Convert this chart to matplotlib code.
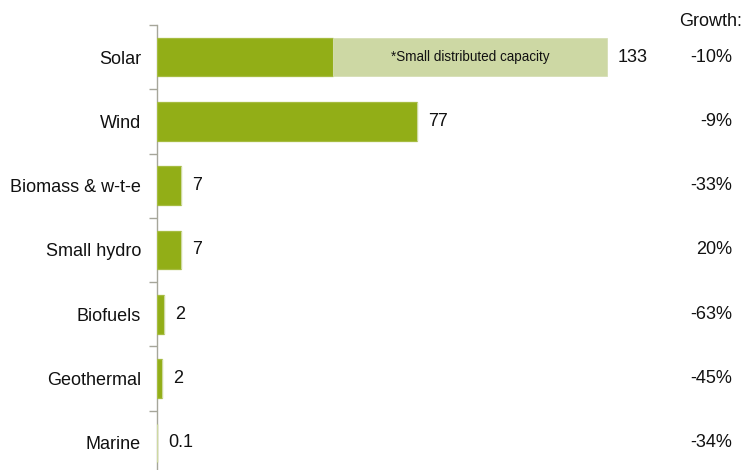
import matplotlib
matplotlib.use('Agg')

from matplotlib import rc
rc('font', family=['Liberation Sans', 'DejaVu Sans'], size=12)

from matplotlib import pyplot as plt
from matplotlib import transforms
import numpy as np

###############################################################################
# Data

categories = ['Solar', 'Wind', 'Biomass & w-t-e', 'Small hydro',
              'Biofuels', 'Geothermal', 'Marine']
capacity = [52, 77, 7, 7, 2.0, 1.4, 0.1]          # main bars
small_distributed = [81, 0, 0, 0, 0, 0, 0]       # stacked on top (solar only)
value_labels = ['133', '77', '7', '7', '2', '2', '0.1']
growth = ['-10%', '-9%', '-33%', '20%', '-63%', '-45%', '-34%']

dark_green = '#92ae17'
light_green = '#cdd8a4'
axis_grey = '#a6a69a'

###############################################################################
# Plot

W, H = 743, 470
fig = plt.figure(figsize=[W / 100., H / 100.], dpi=100)
ax = fig.add_axes([157. / W, -5. / H, (W - 157.) / W, 450. / H])

y = np.arange(len(categories))
totals = np.array(capacity) + np.array(small_distributed)

ax.barh(y, capacity, height=0.6, color=dark_green,
        edgecolor='#a6bc40', linewidth=0.9, zorder=3)
ax.barh(y, small_distributed, left=capacity, height=0.6, color=light_green,
        edgecolor='#d6dfb5', linewidth=0.6, zorder=3)

ax.text(capacity[0] + small_distributed[0] / 2., y[0],
        '*Small distributed capacity', ha='center', va='center',
        fontsize=9.75, color='#111111', zorder=4)

for yi, tot, lab in zip(y, totals, value_labels):
    ax.annotate(lab, (tot, yi), xytext=(8, 0), textcoords='offset points',
                ha='left', va='center', fontsize=13, color='#111111')

trans = transforms.blended_transform_factory(fig.transFigure, ax.transData)
for yi, g in zip(y, growth):
    ax.text(732. / W, yi, g, transform=trans, ha='right', va='center',
            fontsize=13, color='#111111')
fig.text(742. / W, 1 - 21. / H, 'Growth:', ha='right', va='center',
         fontsize=13, color='#111111')

ax.set_xlim(0, (W - 157.) / 3.383)
ax.set_ylim(len(categories) - 0.5, -0.5)

ax.set_yticks(y)
ax.set_yticklabels(categories, fontsize=13, color='#111111')
ax.set_yticks(np.arange(-0.5, len(categories), 1.0), minor=True)
ax.tick_params(axis='y', which='major', length=0, pad=11.5)
ax.tick_params(axis='y', which='minor', length=6, width=1.0, color=axis_grey)
ax.set_xticks([])

for side in ['top', 'right', 'bottom']:
    ax.spines[side].set_visible(False)
ax.spines['left'].set_color(axis_grey)
ax.spines['left'].set_linewidth(1.0)

fig.savefig('out.png', dpi=100)
